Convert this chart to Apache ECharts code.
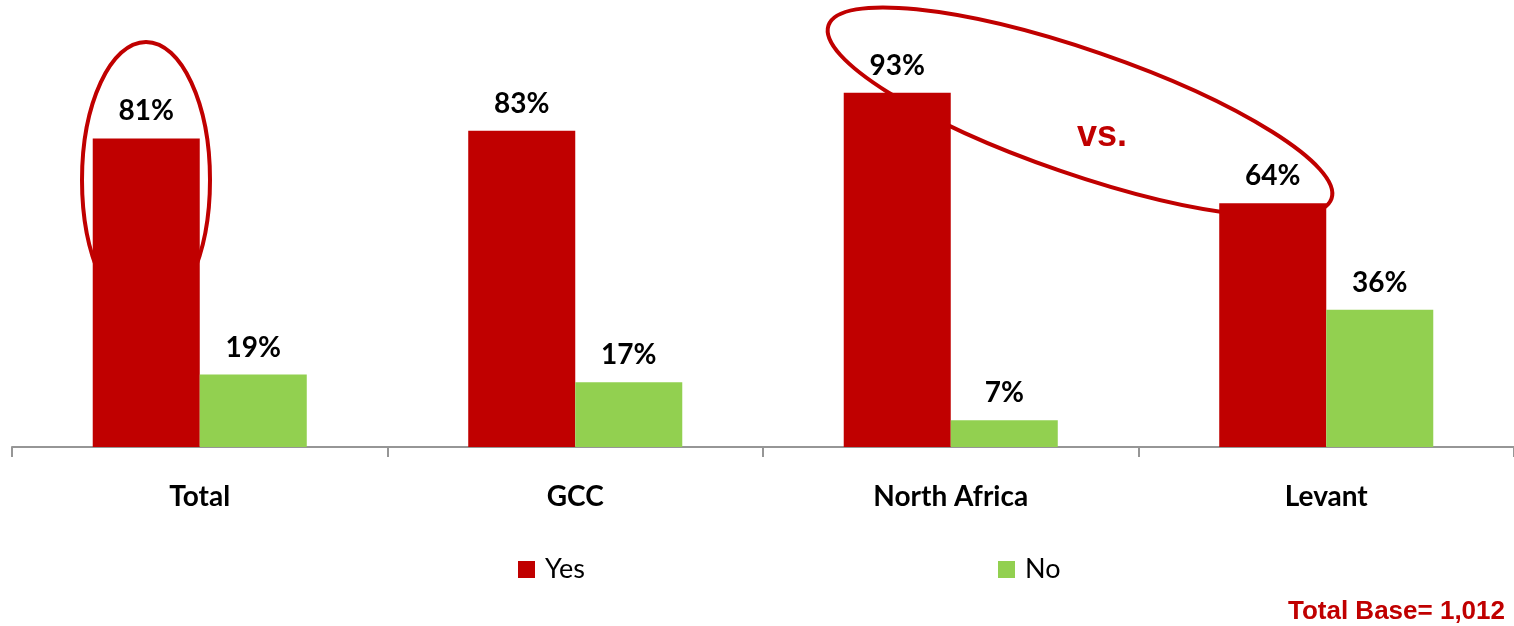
<!DOCTYPE html>
<html>
<head>
<meta charset="utf-8">
<script src="https://cdn.jsdelivr.net/npm/echarts@6/dist/echarts.min.js"></script>
<style>
html,body{margin:0;padding:0;background:#fff;}
#chart{width:1514px;height:626px;}
</style>
</head>
<body>
<div id="chart"></div>
<script>
var categories = ['Total', 'GCC', 'North Africa', 'Levant'];
var yesValues = [81, 83, 93, 64];
var noValues = [19, 17, 7, 36];
var seriesNames = ['Yes', 'No'];
var baseNote = 'Total Base= 1,012';
var vsText = 'vs.';

var RED = '#C00000', GREEN = '#92D050';
var FONT = 'Lato, "Open Sans", sans-serif';
var chart = echarts.init(document.getElementById('chart'));
var labelStyle = {
  show: true, position: 'top', distance: 13,
  formatter: '{c}%', color: '#000', fontFamily: FONT,
  fontWeight: 'bold', fontSize: 28
};
function legendFor(name, left) {
  return {data: [name], left: left, top: 556, padding: 0, icon: 'rect', itemWidth: 17, itemHeight: 17, itemGap: 0,
    textStyle: {fontFamily: FONT, fontSize: 27, color: '#000', padding: [0, 0, 0, 5]}};
}
chart.setOption({
  animation: false,
  grid: {left: 12, top: 66, width: 1503, height: 381, containLabel: false},
  xAxis: {
    type: 'category', data: categories,
    axisLine: {lineStyle: {color: '#969696', width: 2}},
    axisTick: {show: true, length: 10, lineStyle: {color: '#969696', width: 2}},
    axisLabel: {margin: 36, color: '#000', fontFamily: FONT, fontWeight: 'bold', fontSize: 28}
  },
  yAxis: {type: 'value', min: 0, max: 100, show: false, splitLine: {show: false}},
  legend: [legendFor(seriesNames[0], 518), legendFor(seriesNames[1], 998)],
  series: [
    {name: seriesNames[0], type: 'bar', data: yesValues, barGap: '0%', barCategoryGap: '43%',
     itemStyle: {color: RED}, label: labelStyle, z: 3},
    {name: seriesNames[1], type: 'bar', data: noValues, barGap: '0%', barCategoryGap: '43%',
     itemStyle: {color: GREEN}, label: labelStyle, z: 3}
  ],
  graphic: [
    {type: 'ellipse', z: 0, x: 146, y: 180, shape: {cx: 0, cy: 0, rx: 64, ry: 138},
     style: {fill: 'none', stroke: RED, lineWidth: 4}},
    {type: 'ellipse', z: 0, x: 1080, y: 112, rotation: -19 * Math.PI / 180,
     shape: {cx: 0, cy: 0, rx: 266, ry: 62},
     style: {fill: 'none', stroke: RED, lineWidth: 4}},
    {type: 'text', z: 5, x: 1102, y: 136,
     style: {text: vsText, fill: RED, font: 'bold 36px "Liberation Sans", Arial, sans-serif', textAlign: 'center', textVerticalAlign: 'middle'}},
    {type: 'text', z: 5, x: 1505, y: 612,
     style: {text: baseNote, fill: RED, font: 'bold 26px "Liberation Sans", Arial, sans-serif', textAlign: 'right', textVerticalAlign: 'middle'}}
  ]
});
</script>
</body>
</html>
